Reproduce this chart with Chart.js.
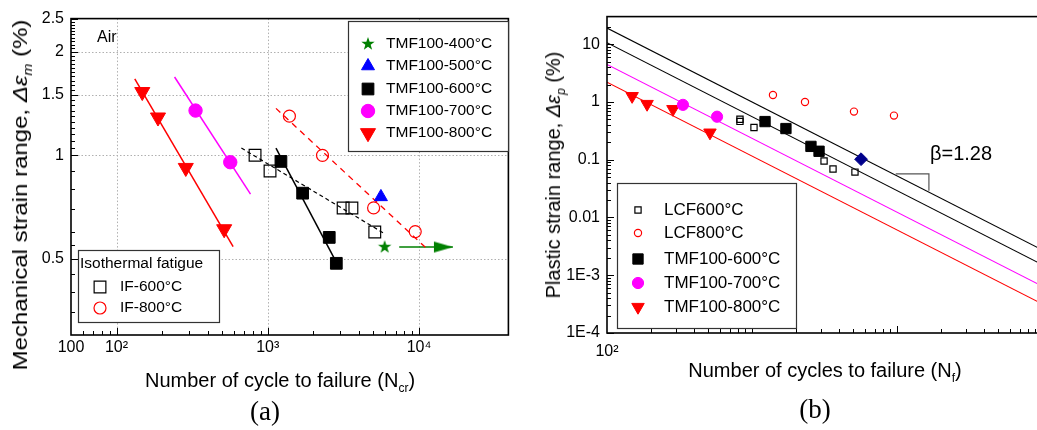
<!DOCTYPE html>
<html>
<head>
<meta charset="utf-8">
<script src="https://cdn.jsdelivr.net/npm/chart.js@4.4.1/dist/chart.umd.min.js"></script>
<style>
html,body{margin:0;padding:0;background:#fff;overflow:hidden;}
#wrap{position:relative;width:1037px;height:430px;overflow:hidden;font-family:"Liberation Sans",Arial,sans-serif;color:#000;}
#boxA{position:absolute;left:0;top:0;width:520px;height:430px;}
#boxB{position:absolute;left:520px;top:0;width:540px;height:430px;}
.t{position:absolute;white-space:nowrap;transform:translate(-50%,-50%);font-size:20px;line-height:1;}
.cap{font-family:"Liberation Serif","Times New Roman",serif;font-size:27px;}
sub{font-size:0.6em;vertical-align:-0.4em;line-height:0;}
</style>
</head>
<body>
<div id="wrap">
  <div id="boxA"><canvas id="ca" width="520" height="430"></canvas></div>
  <div id="boxB"><canvas id="cb" width="540" height="430"></canvas></div>

  <div class="t" style="left:20px;top:195px;transform:translate(-50%,-50%) rotate(-90deg) scaleX(1.2)">Mechanical strain range, <i>&Delta;&epsilon;</i><sub><i>m</i></sub> (%)</div>
  <div class="t" style="left:280px;top:380px;">Number of cycle to failure (N<sub>cr</sub>)</div>
  <div class="t" style="left:97px;top:37px;font-size:16px;transform:translate(0,-50%)">Air</div>
  <div class="t cap" style="left:265px;top:411px;">(a)</div>

  <div class="t" style="left:553px;top:175px;transform:translate(-50%,-50%) rotate(-90deg)">Plastic strain range, <i>&Delta;&epsilon;</i><sub><i>p</i></sub> (%)</div>
  <div class="t" style="left:825px;top:370px;">Number of cycles to failure (N<sub>f</sub>)</div>
  <div class="t" style="left:930px;top:153px;transform:translate(0,-50%)">&beta;=1.28</div>
  <div class="t cap" style="left:815px;top:409px;">(b)</div>
</div>
<script>
// ---------- panel (a): cycles to failure vs mechanical strain range (%)
var tmf400A_N = [5930],                    tmf400A_e = [0.541];
var tmf500A_N = [5600],                    tmf500A_e = [0.757];
var tmf600A_N = [1222, 1700, 2550, 2840],  tmf600A_e = [0.96, 0.776, 0.577, 0.485];
var tmf700A_N = [333, 565],                tmf700A_e = [1.35, 0.955];
var tmf800A_N = [148, 188, 287, 515],      tmf800A_e = [1.53, 1.29, 0.92, 0.61];
var if600A_N = [824, 1035, 3150, 3600, 5100], if600A_e = [1.0, 0.90, 0.703, 0.703, 0.598];
var if800A_N = [1390, 2300, 5010, 9440],   if800A_e = [1.30, 1.0, 0.703, 0.60];
// fitted lines, end points
var fit800A_N = [132, 590],     fit800A_e = [1.67, 0.542];
var fit700A_N = [242, 769],     fit700A_e = [1.69, 0.771];
var fit600A_N = [1133, 2900],   fit600A_e = [1.05, 0.48];
var fitIF600A_N = [669, 5830],  fitIF600A_e = [1.05, 0.594];
var fitIF800A_N = [1133, 11170], fitIF800A_e = [1.37, 0.537];
var arrowA_N = [7400, 16750],   arrowA_e = [0.541, 0.541];
// axis labels (a)
var xTickA = [50, 100, 1000, 10000], xLabA = ['100', '10\u00B2', '10\u00B3', '10\u2074'];
var yTickA = [0.5, 1, 1.5, 2, 2.5],  yLabA = ['0.5', '1', '1.5', '2', '2.5'];

// ---------- panel (b): cycles to failure vs plastic strain range (%)
var lcf600B_N = [826, 826, 1032, 3140, 3620, 5130], lcf600B_e = [0.50, 0.46, 0.36, 0.095, 0.069, 0.061];
var lcf800B_N = [1395, 2320, 5050, 9530],  lcf800B_e = [1.32, 1.0, 0.68, 0.58];
var tmf600B_N = [1230, 1714, 2550, 2900],  tmf600B_e = [0.457, 0.346, 0.17, 0.14];
var tmf700B_N = [334, 574],                tmf700B_e = [0.89, 0.555];
var tmf800B_N = [149, 189, 285, 513],      tmf800B_e = [1.26, 0.92, 0.75, 0.294];
var tmf500B_N = [5650],                    tmf500B_e = [0.102];
var fitB_N = [100, 100000];
var fitBlk1B_e = [19, 0.00275];
var fitBlk2B_e = [10.6, 0.00153];
var fitMagB_e = [4.45, 0.00065];
var fitRedB_e = [2.2, 0.00032];
var slopeB_N = [9800, 16600, 16600], slopeB_e = [0.057, 0.057, 0.029];
var xTickB = [100], xLabB = ['10\u00B2'];
var yTickB = [0.0001, 0.001, 0.01, 0.1, 1, 10], yLabB = ['1E-4', '1E-3', '0.01', '0.1', '1', '10'];

var FONT = '"Liberation Sans", Arial, sans-serif';
Chart.defaults.font.family = FONT;
Chart.defaults.color = '#000';

function pts(xs, ys) { return xs.map(function (x, i) { return {x: x, y: ys[i]}; }); }
function minors(from, to) {   // 2..9 in every decade
  var out = [];
  for (var d = from; d < to; d *= 10) for (var k = 2; k <= 9; k++) out.push(k * d);
  return out;
}

// filled five point star
function starImg(color, r) {
  var c = document.createElement('canvas'); c.width = c.height = 2 * r + 2;
  var g = c.getContext('2d'), cx = r + 1;
  g.beginPath();
  for (var i = 0; i < 10; i++) {
    var rr = i % 2 ? r * 0.4 : r, a = -Math.PI / 2 + i * Math.PI / 5;
    g.lineTo(cx + rr * Math.cos(a), cx + rr * Math.sin(a));
  }
  g.closePath(); g.fillStyle = color; g.fill();
  return c;
}
// arrow head whose tip sits at the image centre
function arrowImg(color) {
  var c = document.createElement('canvas'); c.width = 40; c.height = 13;
  var g = c.getContext('2d');
  g.beginPath(); g.moveTo(1, 1); g.lineTo(20, 6.5); g.lineTo(1, 12); g.closePath();
  g.fillStyle = color; g.fill();
  return c;
}

function marker(label, xs, ys, style, r, fill, stroke, rot) {
  return {label: label, data: pts(xs, ys), pointStyle: style, pointRadius: r, pointRotation: rot || 0,
    pointBackgroundColor: fill, pointBorderColor: stroke, pointBorderWidth: fill === 'rgba(0,0,0,0)' ? 1.2 : 1,
    showLine: false};
}
function line(xs, ys, color, w, dash) {
  return {label: '', data: pts(xs, ys), showLine: true, borderColor: color, borderWidth: w,
    borderDash: dash || [], pointRadius: 0, fill: false, tension: 0};
}

// dotted grid, box frame and inward tick marks
var framePlugin = {
  id: 'frame',
  beforeDatasetsDraw: function (chart, args, o) {
    var ctx = chart.ctx, a = chart.chartArea, x = chart.scales.x, y = chart.scales.y;
    ctx.save();
    ctx.strokeStyle = '#b0b0b0'; ctx.lineWidth = 1; ctx.setLineDash([1.5, 2]);
    (o.gridX || []).forEach(function (v) {
      var p = Math.round(x.getPixelForValue(v)) + 0.5;
      ctx.beginPath(); ctx.moveTo(p, a.top); ctx.lineTo(p, a.bottom); ctx.stroke();
    });
    (o.gridY || []).forEach(function (v) {
      var p = Math.round(y.getPixelForValue(v)) + 0.5;
      ctx.beginPath(); ctx.moveTo(a.left, p); ctx.lineTo(a.right, p); ctx.stroke();
    });
    ctx.restore();
  },
  afterDatasetsDraw: function (chart, args, o) {
    var ctx = chart.ctx, a = chart.chartArea, x = chart.scales.x, y = chart.scales.y;
    ctx.save();
    ctx.strokeStyle = '#000'; ctx.lineWidth = 1;
    function tx(list, len) {
      list.forEach(function (v) {
        var p = Math.round(x.getPixelForValue(v)) + 0.5;
        ctx.beginPath(); ctx.moveTo(p, a.bottom); ctx.lineTo(p, a.bottom - len); ctx.stroke();
      });
    }
    function ty(list, len) {
      list.forEach(function (v) {
        var p = Math.round(y.getPixelForValue(v)) + 0.5;
        ctx.beginPath(); ctx.moveTo(a.left, p); ctx.lineTo(a.left + len, p); ctx.stroke();
      });
    }
    tx(o.minX, 4); tx(o.majX, 7); ty(o.minY, 4); ty(o.majY, 7);
    ctx.lineWidth = 1.6;
    ctx.strokeRect(a.left, a.top, a.right - a.left, a.bottom - a.top);
    ctx.restore();
  }
};

// framed legends drawn with the datasets' own point styles
var boxLegendPlugin = {
  id: 'boxLegend',
  afterDatasetsDraw: function (chart, args, o) {
    var ctx = chart.ctx;
    (o.boxes || []).forEach(function (b) {
      ctx.save();
      ctx.fillStyle = '#fff'; ctx.fillRect(b.x0, b.y0, b.x1 - b.x0, b.y1 - b.y0);
      ctx.strokeStyle = '#333'; ctx.lineWidth = 1.2;
      ctx.strokeRect(b.x0 + 0.5, b.y0 + 0.5, b.x1 - b.x0, b.y1 - b.y0);
      ctx.font = b.font + 'px ' + FONT; ctx.textBaseline = 'middle'; ctx.fillStyle = '#000';
      if (b.title) ctx.fillText(b.title, b.titleX, b.titleY);
      b.rows.forEach(function (r) {
        var ds = chart.data.datasets[r.ds];
        ctx.save();
        ctx.fillStyle = ds.pointBackgroundColor; ctx.strokeStyle = ds.pointBorderColor;
        ctx.lineWidth = ds.pointBorderWidth;
        Chart.helpers.drawPoint(ctx, {pointStyle: ds.pointStyle, radius: r.r || ds.pointRadius,
          rotation: ds.pointRotation, borderWidth: ds.pointBorderWidth}, b.mx, r.y);
        ctx.restore();
        ctx.fillText(ds.label, b.tx, r.y);
      });
      ctx.restore();
    });
  }
};

function logAxis(min, max, vals, labs, fixed, horiz, pad) {
  return {
    type: 'logarithmic', min: min, max: max,
    grid: {display: false, drawTicks: false}, border: {display: false},
    ticks: {autoSkip: false, maxRotation: 0, minRotation: 0, padding: pad, font: {size: 16}, color: '#000',
      callback: function (v) { var i = vals.indexOf(v); return i < 0 ? '' : labs[i]; }},
    afterBuildTicks: function (s) { s.ticks = vals.map(function (v) { return {value: v}; }); },
    afterFit: function (s) { if (horiz) s.height = fixed; else s.width = fixed; }
  };
}

var red = '#ff0000', mag = '#ff00ff', green = '#008000', none = 'rgba(0,0,0,0)';

var dsA = [
  marker('TMF100-400\u00B0C', tmf400A_N, tmf400A_e, starImg(green, 7), 7, green, green),
  marker('TMF100-500\u00B0C', tmf500A_N, tmf500A_e, 'triangle', 7.5, '#0000ff', '#0000ff'),
  marker('TMF100-600\u00B0C', tmf600A_N, tmf600A_e, 'rect', 8.3, '#000', '#000'),
  marker('TMF100-700\u00B0C', tmf700A_N, tmf700A_e, 'circle', 6.7, mag, mag),
  marker('TMF100-800\u00B0C', tmf800A_N, tmf800A_e, 'triangle', 8.7, red, red, 180),
  marker('IF-600\u00B0C', if600A_N, if600A_e, 'rect', 8.3, none, '#000'),
  marker('IF-800\u00B0C', if800A_N, if800A_e, 'circle', 6, none, red),
  line(fit800A_N, fit800A_e, red, 1.5),
  line(fit700A_N, fit700A_e, mag, 1.5),
  line(fit600A_N, fit600A_e, '#000', 1.5),
  line(fitIF600A_N, fitIF600A_e, '#000', 1.2, [4, 3]),
  line(fitIF800A_N, fitIF800A_e, red, 1.3, [6, 5]),
  {label: '', data: pts(arrowA_N, arrowA_e), showLine: true, borderColor: green, borderWidth: 1.6,
    pointRadius: [0, 10], pointStyle: arrowImg(green), pointBackgroundColor: green, pointBorderColor: green}
];

new Chart(document.getElementById('ca'), {
  type: 'scatter',
  data: {datasets: dsA},
  options: {
    responsive: false, animation: false, events: [],
    layout: {padding: {left: 0, right: 7, top: 18.6, bottom: 0}},
    scales: {
      x: logAxis(50, 39000, xTickA, xLabA, 95, true, 3),
      y: logAxis(0.3, 2.5, yTickA, yLabA, 71, false, 7)
    },
    plugins: {
      legend: {display: false}, tooltip: {enabled: false},
      frame: {
        gridX: [100, 1000, 10000], gridY: [0.5, 1, 1.5, 2],
        majX: [100, 1000, 10000], minX: minors(10, 10000).filter(function (v) { return v >= 60 && v < 39000; }),
        majY: [0.5, 1, 1.5, 2, 2.5],
        minY: [0.35, 0.4, 0.45, 0.55, 0.6, 0.7, 0.8, 0.9].concat(
          [1.05,1.1,1.15,1.2,1.25,1.3,1.35,1.4,1.45,1.55,1.6,1.65,1.7,1.75,1.8,1.85,1.9,1.95,2.05,2.1,2.15,2.2,2.25,2.3,2.35,2.4,2.45])
      },
      boxLegend: {boxes: [
        {x0: 348, y0: 21, x1: 508, y1: 151, font: 15.5, mx: 368, tx: 386,
          rows: [{ds: 0, y: 44}, {ds: 1, y: 66}, {ds: 2, y: 89}, {ds: 3, y: 111}, {ds: 4, y: 133}]},
        {x0: 78, y0: 250, x1: 219, y1: 322, font: 15.5, mx: 100, tx: 120,
          title: 'Isothermal fatigue', titleX: 80, titleY: 264,
          rows: [{ds: 5, y: 287}, {ds: 6, y: 308}]}
      ]}
    }
  },
  plugins: [framePlugin, boxLegendPlugin]
});

var dsB = [
  marker('LCF600\u00B0C', lcf600B_N, lcf600B_e, 'rect', 4.4, none, '#000'),
  marker('LCF800\u00B0C', lcf800B_N, lcf800B_e, 'circle', 3.6, none, red),
  marker('TMF100-600\u00B0C', tmf600B_N, tmf600B_e, 'rect', 7.3, '#000', '#000'),
  marker('TMF100-700\u00B0C', tmf700B_N, tmf700B_e, 'circle', 5.6, mag, mag),
  marker('TMF100-800\u00B0C', tmf800B_N, tmf800B_e, 'triangle', 7.2, red, red, 180),
  marker('', tmf500B_N, tmf500B_e, 'rectRot', 6.4, '#00008b', '#00008b'),
  line(fitB_N, fitBlk1B_e, '#000', 1.1),
  line(fitB_N, fitBlk2B_e, '#000', 1.1),
  line(fitB_N, fitMagB_e, mag, 1.1),
  line(fitB_N, fitRedB_e, red, 1.1),
  line(slopeB_N, slopeB_e, '#555', 1.2)
];

new Chart(document.getElementById('cb'), {
  type: 'scatter',
  data: {datasets: dsB},
  options: {
    responsive: false, animation: false, events: [],
    layout: {padding: {left: 0, right: 18, top: 12, bottom: 0}},
    scales: {
      x: logAxis(100, 100000, xTickB, xLabB, 97, true, 9),
      y: logAxis(0.0001, 30, yTickB, yLabB, 87, false, 7)
    },
    plugins: {
      legend: {display: false}, tooltip: {enabled: false},
      frame: {
        gridX: [], gridY: [],
        majX: [10000], minX: minors(100, 100000).concat([1000]),
        majY: yTickB, minY: minors(0.0001, 30).filter(function (v) { return v < 30; })
      },
      boxLegend: {boxes: [
        {x0: 97, y0: 183, x1: 276, y1: 328, font: 17, mx: 118, tx: 144,
          rows: [{ds: 0, y: 210}, {ds: 1, y: 233}, {ds: 2, y: 259}, {ds: 3, y: 283}, {ds: 4, y: 307}]}
      ]}
    }
  },
  plugins: [framePlugin, boxLegendPlugin]
});
</script>
</body>
</html>
